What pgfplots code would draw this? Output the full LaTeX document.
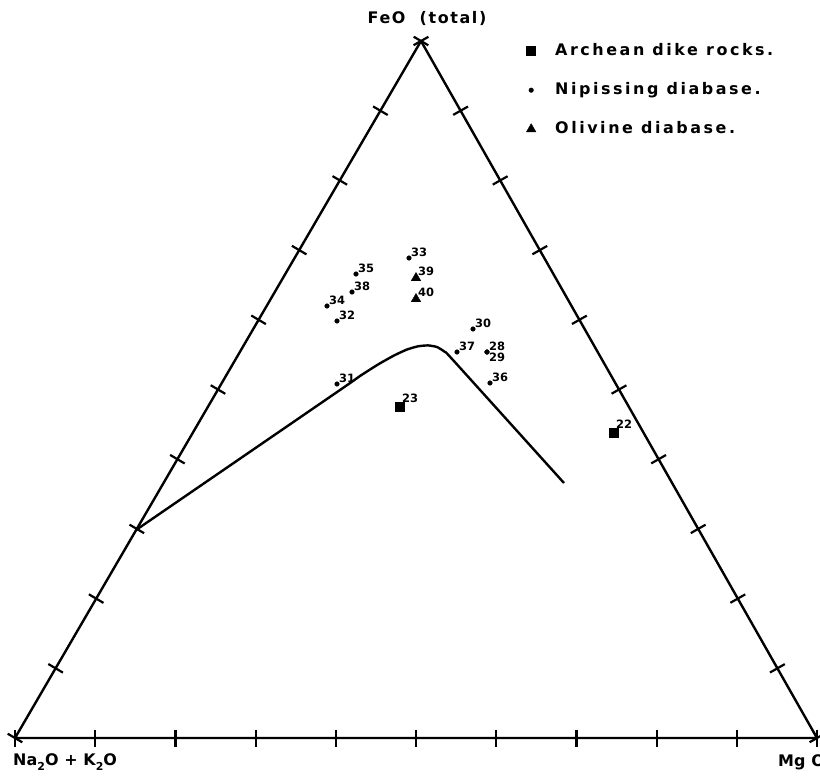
\documentclass[border=0pt]{standalone}
\usepackage{fontspec}
\setmainfont{DejaVu Sans}
\newfontfamily\legfont{DejaVu Sans}[LetterSpace=16]
\newfontfamily\titfont{DejaVu Sans}[LetterSpace=10]
\newfontfamily\basefont{DejaVu Sans}[LetterSpace=1]
\newfontfamily\lblfont{DejaVu Sans}[LetterSpace=0]
\usepackage{pgfplots}
\pgfplotsset{compat=1.18}
\usepackage{pgfplotstable}

\pgfplotstableread{
x y label
409 258 33
356 274 35
352 292 38
327 306 34
337 321 32
473 329 30
457 352 37
487 352 28
490 383 36
337 384 31
}\nipissing
\pgfplotstableread{
x y label
487 352 29
}\nipb
\pgfplotstableread{
x y label
400 407 23
614 433 22
}\archean
\pgfplotstableread{
x y label
416 278 39
416 299 40
}\olivine
\pgfplotstableread{
x y
136 530
340 390
360 376
378 364.5
394 355.5
407 349.5
418 346.3
428 345.4
437 347
445 352
453 360
564 483
}\curve
\pgfplotstableread{
x y
15 738
817 738
421 41
15 738
}\frame

\begin{document}
\begin{tikzpicture}
\begin{axis}[
  width=820bp, height=780bp, scale only axis,
  xmin=0, xmax=820, ymin=0, ymax=780, y dir=reverse,
  hide axis, clip=false,
  legend style={draw=none, fill=none, at={(axis cs:523,39)}, anchor=north west,
    font=\legfont\bfseries\fontsize{16}{16}\selectfont, row sep=19bp,
    nodes={text height=12bp, text depth=4bp}},
  legend cell align=left,
  legend image code/.code={\draw[#1] plot coordinates {(0bp,0bp)}; \path[draw=none,fill=none] (-5bp,-3bp) rectangle (22bp,3bp);},
  lbl/.style={nodes near coords, point meta=explicit symbolic,
    every node near coord/.append style={font=\lblfont\bfseries\fontsize{11.5}{11.5}\selectfont, anchor=south west, inner sep=1bp}},
]
% frame
\addplot[black, line width=2.4bp, line join=round, forget plot] table[x=x,y=y] {\frame};
% boundary curve
\addplot[black, line width=2.4bp, line join=round, smooth, tension=0.3, forget plot] table[x=x,y=y] {\curve};
% data
\addplot[only marks, mark=square*, mark size=4.5bp, black, lbl,
  every node near coord/.append style={xshift=1bp, yshift=3bp}]
  table[x=x,y=y,meta=label] {\archean};
\addlegendentry{Archean dike rocks.}
\addplot[only marks, mark=*, mark size=2.3bp, black, lbl,
  every node near coord/.append style={xshift=1bp}]
  table[x=x,y=y,meta=label] {\nipissing};
\addlegendentry{Nipissing diabase.}
\addplot[only marks, mark=triangle*, mark size=5.5bp, black, lbl,
  every node near coord/.append style={xshift=1bp, yshift=1bp}]
  table[x=x,y=y,meta=label] {\olivine};
\addlegendentry{Olivine diabase.}
\addplot[only marks, mark=*, mark size=2.3bp, black, lbl, forget plot,
  every node near coord/.append style={anchor=north west, xshift=1bp}]
  table[x=x,y=y,meta=label] {\nipb};
% ticks
\pgfplotsinvokeforeach{0,...,10}{
  \draw[line width=2.2bp] (axis cs:{15+80.2*#1},729.5) -- (axis cs:{15+80.2*#1},746.5);
  \draw[line width=2.2bp] (axis cs:{15+40.6*#1-7.3},{738-69.7*#1-4.3}) -- (axis cs:{15+40.6*#1+7.3},{738-69.7*#1+4.3});
  \draw[line width=2.2bp] (axis cs:{817-39.6*#1-7.4},{738-69.7*#1+4.2}) -- (axis cs:{817-39.6*#1+7.4},{738-69.7*#1-4.2});
}
% vertex labels
\node[anchor=center, inner sep=0, font=\titfont\bfseries\fontsize{16}{16}\selectfont] at (axis cs:427,18) {FeO\ \ (total)};
\node[anchor=west, inner sep=0, font=\basefont\bfseries\fontsize{16}{16}\selectfont] at (axis cs:13,762) {Na\raisebox{-4.5bp}{\fontsize{11}{11}\selectfont 2}O + K\raisebox{-4.5bp}{\fontsize{11}{11}\selectfont 2}O};
\node[anchor=west, inner sep=0, font=\basefont\bfseries\fontsize{16}{16}\selectfont] at (axis cs:778,762) {Mg O};
\end{axis}
\pgfresetboundingbox
\path (0,0) rectangle (820bp,780bp);
\end{tikzpicture}
\end{document}
